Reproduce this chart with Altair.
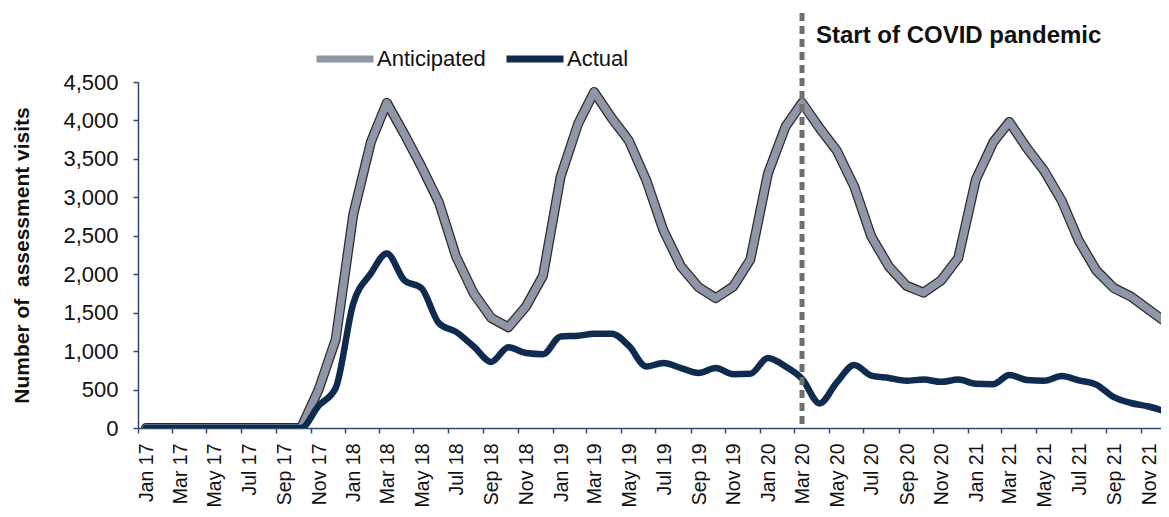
import altair as alt
import pandas as pd

# ---- data ----
years = [2017, 2018, 2019, 2020, 2021]
month_nums = [1, 2, 3, 4, 5, 6, 7, 8, 9, 10, 11, 12]

anticipated = [
    0, 0, 0, 0, 0, 0, 0, 0, 0, 0, 500, 1150,                       # 2017
    2780, 3720, 4230, 3820, 3400, 2930, 2230, 1750, 1430, 1310, 1580, 1980,   # 2018
    3270, 3960, 4370, 4030, 3740, 3220, 2570, 2100, 1830, 1690, 1840, 2190,   # 2019
    3310, 3920, 4230, 3900, 3610, 3140, 2490, 2100, 1850, 1760, 1920, 2210,   # 2020
    3230, 3720, 3980, 3640, 3350, 2960, 2440, 2050, 1820, 1710, 1540, 1380,   # 2021
]
actual = [
    0, 0, 0, 0, 0, 0, 0, 0, 0, 0, 290, 520,                        # 2017
    1620, 2010, 2270, 1920, 1820, 1360, 1250, 1060, 860, 1050, 975, 960,      # 2018
    1190, 1200, 1225, 1225, 1070, 800, 845, 780, 715, 780, 700, 705,          # 2019
    910, 800, 640, 320, 590, 820, 680, 650, 615, 630, 600, 630,               # 2020
    575, 570, 690, 625, 615, 675, 620, 565, 400, 325, 280, 215,               # 2021
]
series_names = ["Anticipated", "Actual"]
series_colors = ["#8d97a7", "#0f2b4f"]
y_ticks = [0, 500, 1000, 1500, 2000, 2500, 3000, 3500, 4000, 4500]
event_date = ["2020-03-15"]
event_label = ["Start of COVID pandemic"]

dates = [f"{y}-{m:02d}-15" for y in years for m in month_nums]

df = pd.DataFrame({
    "date": dates * 2,
    "value": anticipated + actual,
    "series": [series_names[0]] * len(dates) + [series_names[1]] * len(dates),
})
ev = pd.DataFrame({"date": event_date, "label": event_label})

FONT = "Liberation Sans"
AXIS_COLOR = "#2e4a70"


def ms(s):
    return int(pd.Timestamp(s, tz="UTC").value // 10**6)


tick_values = [ms(f"{y}-{m:02d}-01") for y in years for m in month_nums if m % 2 == 1]

x_scale = alt.Scale(type="utc", domain=[ms("2017-01-01"), ms("2021-12-07")])
y_scale = alt.Scale(domain=[0, 4500], nice=False)

x_enc = alt.X("date:T", scale=x_scale,
              axis=alt.Axis(title=None, values=tick_values, tickCount=100,
                            format="%b %y", formatType="time",
                            labelAngle=-90, labelOffset=8.6, labelPadding=10,
                            labelFontSize=19.5, labelFont=FONT, labelColor="#111111",
                            tickSize=5, labelBound=False, labelOverlap=False,
                            labelFlush=False, labelSeparation=0))
y_enc = alt.Y("value:Q", scale=y_scale,
              axis=alt.Axis(title="Number of \u00a0assessment visits", values=y_ticks,
                            format=",.0f", labelFontSize=22, labelFont=FONT,
                            labelColor="#111111", labelPadding=15, tickSize=5,
                            titleFontSize=21, titleFont=FONT, titleFontWeight="bold",
                            titleColor="#111111", titlePadding=30))

base = alt.Chart(df)

outline = base.transform_filter(alt.datum.series == "Anticipated").mark_line(
    stroke="#2b2b2b", strokeWidth=10, strokeCap="round", strokeJoin="round", clip=True
).encode(x=x_enc, y=y_enc)

color_scale = alt.Scale(domain=series_names, range=series_colors)
legend = alt.Legend(title=None, orient="none", legendX=175, legendY=-55,
                    direction="horizontal", symbolType="stroke", symbolSize=3249,
                    symbolStrokeWidth=7, labelFontSize=22, labelFont=FONT,
                    labelColor="#111111", labelOffset=0, columnPadding=6)

antic = base.transform_filter(alt.datum.series == "Anticipated").mark_line(
    strokeWidth=7.5, strokeCap="round", strokeJoin="round", clip=True
).encode(x=x_enc, y=y_enc,
         color=alt.Color("series:N", scale=color_scale, legend=legend))

act = base.transform_filter(alt.datum.series == "Actual").mark_line(
    strokeWidth=6.5, strokeCap="round", strokeJoin="round", interpolate="monotone",
    clip=True
).encode(x=x_enc, y=y_enc,
         color=alt.Color("series:N", scale=color_scale, legend=legend))

rule = alt.Chart(ev).mark_rule(
    color="#6e6e6e", strokeWidth=5, strokeDash=[8, 5]
).encode(x=x_enc, y=alt.value(-69), y2=alt.value(346))

label = alt.Chart(ev).mark_text(
    align="left", baseline="alphabetic", dx=14, fontSize=24, fontWeight="bold",
    font=FONT, color="#111111"
).encode(x=x_enc, y=alt.value(-39), text="label:N")

chart = alt.layer(outline, antic, act, rule, label).properties(
    width=1023, height=346,
    autosize=alt.AutoSizeParams(type="none"),
    padding={"left": 130, "top": 74, "right": 0, "bottom": 80},
).configure_view(stroke=None).configure_axis(
    grid=False, domainColor=AXIS_COLOR, tickColor=AXIS_COLOR,
    domainWidth=1.5, tickWidth=1.5
)

chart.save("out.html", embed_options={"renderer": "svg", "actions": False})
